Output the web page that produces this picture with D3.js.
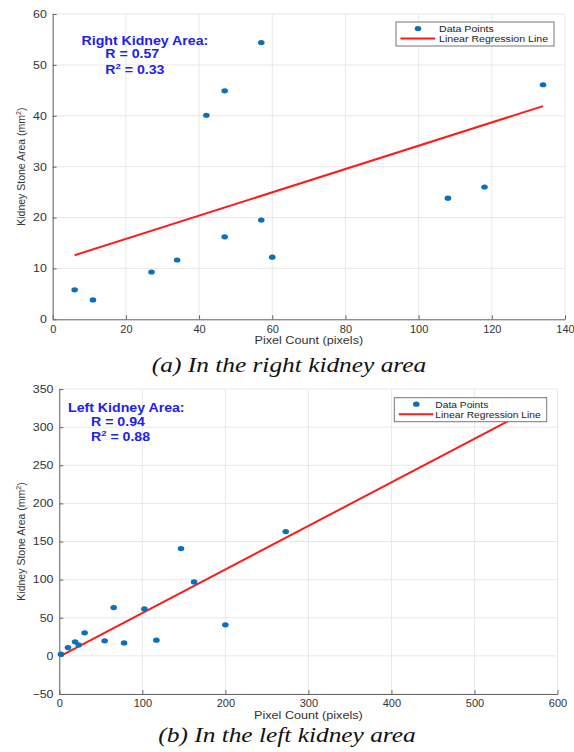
<!DOCTYPE html>
<html>
<head>
<meta charset="utf-8">
<script src="https://cdn.jsdelivr.net/npm/d3@7"></script>
<style>
html,body{margin:0;padding:0;background:#fff;}
svg{display:block;}
</style>
</head>
<body>
<svg id="chart" width="574" height="752"></svg>
<script>
// ---------- Data ----------
// (a) right kidney
const rightX = [6, 11, 27, 34, 42, 47, 47, 57, 57, 60, 108, 118, 134];
const rightY = [5.8, 3.8, 9.3, 11.65, 40.1, 44.9, 16.2, 54.4, 19.5, 12.2, 23.8, 26, 46.1];
const rightFitX = [6, 134];
const rightFitY = [12.6, 41.9];
const rightXTicks = [0, 20, 40, 60, 80, 100, 120, 140];
const rightYTicks = [0, 10, 20, 30, 40, 50, 60];
const rightStats = ["Right Kidney Area:", "R = 0.57", "0.33"];

// (b) left kidney
const leftX = [2, 10.5, 19, 23.3, 30.5, 54.6, 65.5, 78, 102.5, 116.9, 146.6, 162.3, 200, 272.7];
const leftY = [2.2, 10.9, 18.4, 14.4, 30.2, 19.7, 63.4, 17, 61.6, 20.6, 140.7, 97, 40.7, 163];
const leftFitX = [1.7, 560];
const leftFitY = [0, 319];
const leftXTicks = [0, 100, 200, 300, 400, 500, 600];
const leftYTicks = [-50, 0, 50, 100, 150, 200, 250, 300, 350];
const leftStats = ["Left Kidney Area:", "R = 0.94", "0.88"];

const legendLabels = ["Data Points", "Linear Regression Line"];
const captions = ["(a) In the right kidney area", "(b) In the left kidney area"];
const xLabel = "Pixel Count (pixels)";

const svg = d3.select("#chart");
const FONT = "'Liberation Sans', Arial, sans-serif";
const SX = 1.18; // horizontal stretch of the original picture's text

function stext(parent, x, y, anchor) {
  return parent.append("g").attr("transform", `translate(${x},${y}) scale(${SX},1)`)
    .append("text").attr("x", 0).attr("y", 0).attr("text-anchor", anchor || "start");
}

function panel(cfg) {
  const g = svg.append("g");
  const x = d3.scaleLinear().domain(cfg.xDomain).range([cfg.left, cfg.right]);
  const y = d3.scaleLinear().domain(cfg.yDomain).range([cfg.bottom, cfg.top]);

  // grid
  g.append("g").selectAll("line").data(cfg.xTicks).join("line")
    .attr("x1", d => x(d)).attr("x2", d => x(d))
    .attr("y1", cfg.top).attr("y2", cfg.bottom)
    .attr("stroke", "#e8e8e8").attr("stroke-width", 1);
  g.append("g").selectAll("line").data(cfg.yTicks).join("line")
    .attr("x1", cfg.left).attr("x2", cfg.right)
    .attr("y1", d => y(d)).attr("y2", d => y(d))
    .attr("stroke", "#e8e8e8").attr("stroke-width", 1);

  // axes
  const xAxis = d3.axisBottom(x).tickValues(cfg.xTicks).tickSizeInner(-4).tickSizeOuter(0).tickPadding(6);
  const yAxis = d3.axisLeft(y).tickValues(cfg.yTicks).tickSizeInner(-4).tickSizeOuter(0).tickPadding(5);
  const gx = g.append("g").attr("transform", `translate(0,${cfg.bottom})`).call(xAxis);
  const gy = g.append("g").attr("transform", `translate(${cfg.left},0)`).call(yAxis);
  [gx, gy].forEach(a => {
    a.select(".domain").attr("stroke", "#666").attr("stroke-width", 1);
    a.selectAll(".tick line").attr("stroke", "#666");
    a.selectAll(".tick text").attr("fill", "#333").attr("font-size", "10.5px").attr("font-family", FONT);
  });
  gx.selectAll(".tick text").attr("transform", "scale(1.05,1)");
  gy.selectAll(".tick text").attr("transform", `scale(${SX},1)`);

  // axis labels
  stext(g, (cfg.left + cfg.right) / 2, cfg.bottom + 25, "middle")
    .attr("font-family", FONT).attr("font-size", "10.7px").attr("fill", "#333")
    .text(xLabel);
  const yl = g.append("text")
    .attr("transform", `translate(${cfg.yLabelX},${(cfg.top + cfg.bottom) / 2}) rotate(-90)`)
    .attr("text-anchor", "middle").attr("font-family", FONT).attr("font-size", "10.5px").attr("fill", "#333");
  yl.append("tspan").text("Kidney Stone Area (mm");
  yl.append("tspan").attr("dy", "-4").attr("font-size", "7px").text("2");
  yl.append("tspan").attr("dy", "4").text(")");

  // regression line
  g.append("line")
    .attr("x1", x(cfg.fitX[0])).attr("y1", y(cfg.fitY[0]))
    .attr("x2", x(cfg.fitX[1])).attr("y2", y(cfg.fitY[1]))
    .attr("stroke", "#ff1a1a").attr("stroke-width", 2);

  // points
  g.append("g").selectAll("ellipse").data(cfg.xs.map((v, i) => [v, cfg.ys[i]])).join("ellipse")
    .attr("cx", d => x(d[0])).attr("cy", d => y(d[1]))
    .attr("rx", 3.3).attr("ry", 2.6).attr("fill", "#0a6fbd");

  // stats annotation
  const sc = "#2020ee";
  stext(g, cfg.statX, cfg.statY)
    .attr("font-family", FONT).attr("font-weight", "bold").attr("font-size", "12px").attr("fill", sc)
    .text(cfg.stats[0]);
  stext(g, cfg.statX2, cfg.statY + 13.5)
    .attr("font-family", FONT).attr("font-weight", "bold").attr("font-size", "12px").attr("fill", sc)
    .text(cfg.stats[1]);
  const r2 = stext(g, cfg.statX2, cfg.statY + 29)
    .attr("font-family", FONT).attr("font-weight", "bold").attr("font-size", "12px").attr("fill", sc);
  r2.append("tspan").text("R");
  r2.append("tspan").attr("dy", "-5").attr("font-size", "8px").text("2");
  r2.append("tspan").attr("dy", "5").text(" = " + cfg.stats[2]);

  // legend
  const L = cfg.legend;
  g.append("rect").attr("x", L.x).attr("y", L.y).attr("width", L.w).attr("height", L.h)
    .attr("fill", "#fff").attr("stroke", "#777").attr("stroke-width", 1);
  g.append("ellipse").attr("cx", L.x + 22).attr("cy", L.y + 6.5).attr("rx", 3.3).attr("ry", 2.6).attr("fill", "#0a6fbd");
  g.append("line").attr("x1", L.x + 4.5).attr("x2", L.x + 39).attr("y1", L.y + 16.5).attr("y2", L.y + 16.5)
    .attr("stroke", "#ff1a1a").attr("stroke-width", 2);
  legendLabels.forEach((d, i) => {
    stext(g, L.x + L.tx, L.y + 9.8 + i * 10.3)
      .attr("font-family", FONT).attr("font-size", L.fs + "px").attr("fill", "#222")
      .text(d);
  });

  // caption
  stext(g, cfg.capX, cfg.capY, "middle")
    .attr("font-family", "'Liberation Serif', 'Times New Roman', serif")
    .attr("font-style", "italic").attr("font-size", "21.5px").attr("fill", "#111")
    .text(cfg.caption);
}

panel({
  xs: rightX, ys: rightY, fitX: rightFitX, fitY: rightFitY,
  xTicks: rightXTicks, yTicks: rightYTicks, stats: rightStats,
  xDomain: [0, 140], yDomain: [0, 60],
  left: 52.7, right: 565, top: 14, bottom: 319.3,
  yLabelX: 25, statX: 81.5, statX2: 105.3, statY: 44.5,
  legend: {x: 396, y: 22, w: 158, h: 24, tx: 43, fs: 9},
  capX: 289, capY: 371.5, caption: captions[0]
});

panel({
  xs: leftX, ys: leftY, fitX: leftFitX, fitY: leftFitY,
  xTicks: leftXTicks, yTicks: leftYTicks, stats: leftStats,
  xDomain: [0, 600], yDomain: [-50, 350],
  left: 59.3, right: 557.5, top: 389, bottom: 694,
  yLabelX: 25, statX: 68, statX2: 91, statY: 412,
  legend: {x: 394.3, y: 397.7, w: 152.4, h: 24, tx: 41, fs: 8.7},
  capX: 287, capY: 741.5, caption: captions[1]
});
</script>
</body>
</html>
